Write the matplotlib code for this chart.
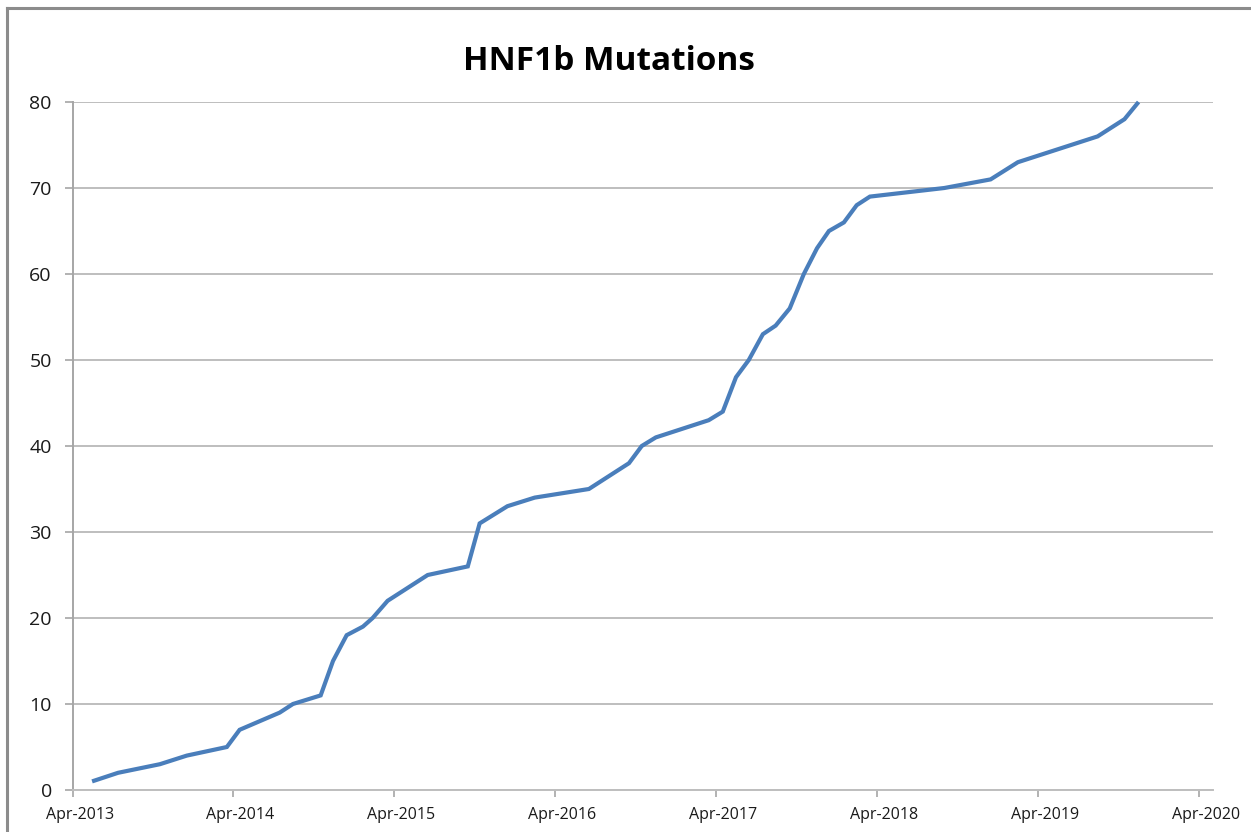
import matplotlib
matplotlib.use("Agg")
import matplotlib.pyplot as plt
import matplotlib.transforms as mtransforms
from matplotlib.lines import Line2D
import datetime as dt

# ---- data ----
dates = [
    "2013-05-15", "2013-07-13", "2013-10-16", "2013-12-16", "2014-03-17",
    "2014-04-15", "2014-07-15", "2014-08-14", "2014-10-16", "2014-11-13",
    "2014-12-14", "2015-01-20", "2015-02-11", "2015-03-17", "2015-06-16",
    "2015-09-15", "2015-10-12", "2015-12-14", "2016-02-14", "2016-06-16",
    "2016-09-15", "2016-10-14", "2016-11-15", "2017-03-15", "2017-04-16",
    "2017-05-16", "2017-06-14", "2017-07-16", "2017-08-14", "2017-09-15",
    "2017-10-17", "2017-11-16", "2017-12-13", "2018-01-16", "2018-02-14",
    "2018-03-16", "2018-09-01", "2018-12-15", "2019-02-15", "2019-08-15",
    "2019-10-15", "2019-11-16",
]
mutations = [
    1, 2, 3, 4, 5,
    7, 9, 10, 11, 15,
    18, 19, 20, 22, 25,
    26, 31, 33, 34, 35,
    38, 40, 41, 43, 44,
    48, 50, 53, 54, 56,
    60, 63, 65, 66, 68,
    69, 70, 71, 73, 76,
    78, 80,
]
x_tick_labels = ["Apr-2013", "Apr-2014", "Apr-2015", "Apr-2016",
                 "Apr-2017", "Apr-2018", "Apr-2019", "Apr-2020"]
y_ticks = [0, 10, 20, 30, 40, 50, 60, 70, 80]
title = "HNF1b Mutations"

x = [dt.datetime.strptime(d, "%Y-%m-%d") for d in dates]
xticks = [dt.datetime(2013 + i, 4, 1) for i in range(len(x_tick_labels))]

W, H = 1251, 832
fig = plt.figure(figsize=(W / 100, H / 100), dpi=100)
fig.patch.set_facecolor("white")

left_px, right_px, top_px, bottom_px = 72.7, 1213, 102, 790
ax = fig.add_axes([left_px / W, 1 - bottom_px / H,
                   (right_px - left_px) / W, (bottom_px - top_px) / H])

ax.plot(x, mutations, color="#4A7EBB", lw=3.0, solid_joinstyle="miter",
        solid_capstyle="butt", zorder=3, clip_on=False)

ax.set_ylim(0, 80)
ax.set_xlim(dt.datetime(2013, 4, 1), dt.datetime(2020, 5, 3))
ax.set_yticks(y_ticks)
ax.set_xticks(xticks)
ax.set_xticklabels(x_tick_labels)

grid_c = "#BEBEBE"
ax.yaxis.grid(True, color=grid_c, lw=1.4)
ax.xaxis.grid(False)
ax.set_axisbelow(True)
for s in ["top", "right"]:
    ax.spines[s].set_visible(False)
ax.spines["left"].set_color("#A6A6A6")
ax.spines["bottom"].set_color(grid_c)
ax.spines["left"].set_linewidth(1.4)
ax.spines["bottom"].set_linewidth(1.4)

ax.tick_params(axis="y", length=6, width=1.2, color="#A6A6A6", pad=9,
               labelsize=14, labelcolor="#1a1a1a")
ax.tick_params(axis="x", length=5, width=1.2, color="#A6A6A6", pad=7,
               labelsize=11.5, labelcolor="#1a1a1a")
shift = mtransforms.ScaledTranslation(7 / 100, 0, fig.dpi_scale_trans)
for lab in ax.get_xticklabels():
    lab.set_fontfamily("Open Sans")
    lab.set_transform(lab.get_transform() + shift)
for lab in ax.get_yticklabels():
    lab.set_fontfamily("Open Sans")

fig.text(609 / W, 1 - 62 / H, title, ha="center", va="center",
         fontsize=24, fontweight="bold", family="Open Sans", color="black")

# outer chart frame (left and top edges visible)
frame_c = "#8C8C8C"
fig.add_artist(Line2D([7 / W, 7 / W], [0, 1 - 8 / H], transform=fig.transFigure,
                      color=frame_c, lw=2.2))
fig.add_artist(Line2D([7 / W, 1], [1 - 8 / H, 1 - 8 / H], transform=fig.transFigure,
                      color=frame_c, lw=2.2))

fig.savefig("out.png", dpi=100, facecolor="white")
